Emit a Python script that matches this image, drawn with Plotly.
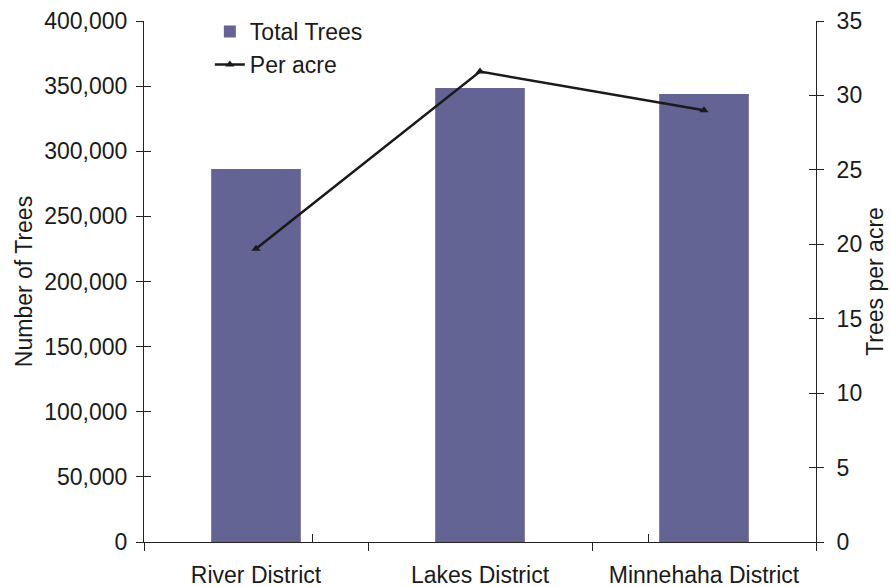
import plotly.graph_objects as go

districts = ["River District", "Lakes District", "Minnehaha District"]
total_trees = [286400, 348600, 344000]
per_acre = [19.7, 31.6, 29.0]
left_ticks = [0, 50000, 100000, 150000, 200000, 250000, 300000, 350000, 400000]
right_ticks = [0, 5, 10, 15, 20, 25, 30, 35]

font = dict(family="Liberation Sans, Arial, sans-serif", size=23, color="#1a1a1a")
axcol = "#222222"

fig = go.Figure()
fig.add_trace(go.Bar(x=districts, y=total_trees, name="Total Trees",
                     marker=dict(color="#636394", line=dict(width=0)), yaxis="y"))
fig.add_trace(go.Scatter(x=districts, y=per_acre, name="Per acre", mode="lines+markers",
                         line=dict(color="#1a1a1a", width=2.5),
                         marker=dict(symbol="triangle-up", size=8, color="#1a1a1a"),
                         yaxis="y2"))
# invisible helper traces to activate the inside-tick axes (crossing ticks)
fig.add_trace(go.Scatter(x=districts, y=total_trees, xaxis="x2", yaxis="y3",
                         mode="none", showlegend=False, hoverinfo="skip"))
fig.add_trace(go.Scatter(x=districts, y=per_acre, xaxis="x2", yaxis="y4",
                         mode="none", showlegend=False, hoverinfo="skip"))

fig.update_layout(
    width=890, height=587,
    margin=dict(l=144, r=74, t=21, b=45, autoexpand=False),
    paper_bgcolor="white", plot_bgcolor="white",
    font=font,
    bargap=0.6,
    showlegend=True,
    legend=dict(x=0.098, y=1.021, xanchor="left", yanchor="top",
                bgcolor="rgba(0,0,0,0)", font=font, tracegroupgap=0,
                itemwidth=30),
    xaxis=dict(showline=True, linecolor=axcol, linewidth=1, ticks="outside",
               ticklen=8, tickcolor=axcol, tickson="boundaries", showgrid=False,
               zeroline=False, tickfont=font, automargin=False,
               ticklabelstandoff=12),
    yaxis=dict(range=[0, 400000], tickvals=left_ticks, tickformat=",",
               showline=True, linecolor=axcol, linewidth=1, ticks="outside",
               ticklen=7, tickcolor=axcol, showgrid=False, zeroline=False,
               title=dict(text="Number of Trees", font=font, standoff=5),
               tickfont=font, automargin=True, ticklabelstandoff=4),
    yaxis2=dict(range=[0, 35], tickvals=right_ticks, overlaying="y", side="right",
                showline=True, linecolor=axcol, linewidth=1, ticks="outside",
                ticklen=7, tickcolor=axcol, showgrid=False, zeroline=False,
                title=dict(text="Trees per acre", font=font, standoff=3),
                tickfont=font, automargin=True, ticklabelstandoff=8),
    yaxis3=dict(range=[0, 400000], tickvals=left_ticks, overlaying="y", side="left",
                showticklabels=False, ticks="inside", ticklen=7, tickcolor=axcol,
                showgrid=False, zeroline=False, showline=False, automargin=False),
    yaxis4=dict(range=[0, 35], tickvals=right_ticks, overlaying="y", side="right",
                showticklabels=False, ticks="inside", ticklen=7, tickcolor=axcol,
                showgrid=False, zeroline=False, showline=False, automargin=False),
    xaxis2=dict(overlaying="x", side="bottom", ticks="inside", ticklen=8,
                tickcolor=axcol, tickson="boundaries", showticklabels=False,
                showgrid=False, zeroline=False, showline=False, automargin=False,
                categoryorder="array", categoryarray=districts),
)

fig.write_html("out.html", config={"displayModeBar": False},
               post_script="document.body.style.margin='0';")
